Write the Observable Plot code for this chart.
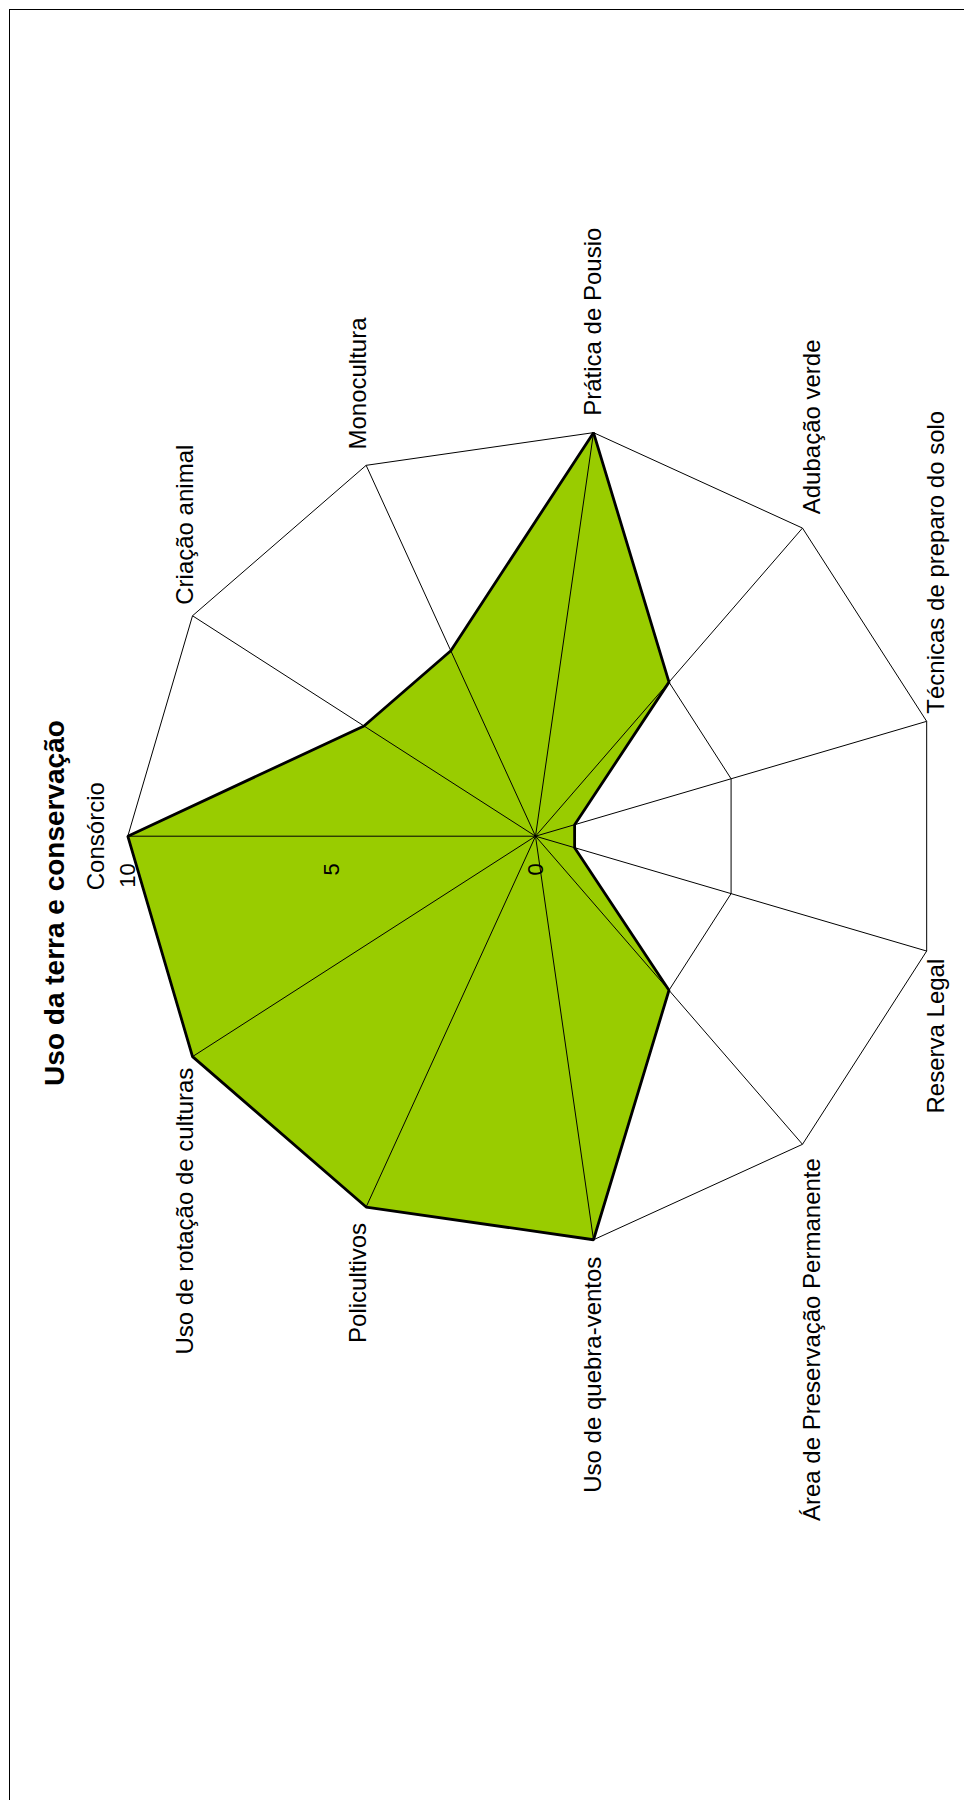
<!DOCTYPE html>
<html>
<head>
<meta charset="utf-8">
<script src="https://cdn.jsdelivr.net/npm/d3@7"></script>
<script src="https://cdn.jsdelivr.net/npm/@observablehq/plot@0.6"></script>
<style>
  html, body { margin: 0; padding: 0; background: #ffffff; }
</style>
</head>
<body>
<div id="chart"></div>
<script>
// Radar of land-use and conservation practices, drawn turned a quarter turn
// (the first axis points left and the web runs clockwise from there).
const title = "Uso da terra e conservação";
const categories = [
  "Consórcio",
  "Criação animal",
  "Monocultura",
  "Prática de Pousio",
  "Adubação verde",
  "Técnicas de preparo do solo",
  "Reserva Legal",
  "Área de Preservação Permanente",
  "Uso de quebra-ventos",
  "Policultivos",
  "Uso de rotação de culturas"
];
const values = [10, 5, 5, 10, 5, 1, 1, 5, 10, 10, 10];
const ticks = [0, 5, 10];

// Layout
const W = 964, H = 1800;
const cx = 535, cy = 835.7;      // centre of the web (px)
const radiusPx = 407.7;          // length of the outer ring (px)
const vMax = d3.max(ticks);
const k = radiusPx / vMax;       // px per unit
const font = "Liberation Sans, Arial, Helvetica, sans-serif";

const n = categories.length;
const dirs = categories.map((_, i) => {
  const a = (i * 2 * Math.PI) / n;
  return {dx: -Math.cos(a), dy: -Math.sin(a)};
});

const series = categories.map((name, i) => ({
  name,
  value: values[i],
  x: values[i] * dirs[i].dx,
  y: values[i] * dirs[i].dy
}));

const rings = ticks.filter((t) => t > 0).flatMap((t) =>
  categories.map((_, i) => ({ring: t, x: t * dirs[i].dx, y: t * dirs[i].dy}))
);

const spokes = categories.map((name, i) => ({
  name,
  x2: vMax * dirs[i].dx,
  y2: vMax * dirs[i].dy
}));

// Category labels: rotated text placed just outside each spoke end
const labelMarks = categories.map((name, i) => {
  const {dx, dy} = dirs[i];
  const eps = 0.05;
  let textAnchor = "middle", along = 0;
  const gap = 4 + 13 * Math.abs(dy);
  if (dy < -eps) { textAnchor = "start"; along = -gap; }
  else if (dy > eps) { textAnchor = "end"; along = gap; }
  let lineAnchor = "middle", across = 0;
  if (Math.abs(dx) >= 0.3) lineAnchor = dx < 0 ? "bottom" : "top";
  if (Math.abs(dy) < eps) across = dx < 0 ? -24 : 24;
  return Plot.text([name], {
    x: () => vMax * dx + across / k,
    y: () => vMax * dy + along / k,
    text: (d) => d,
    rotate: -90,
    textAnchor,
    lineAnchor,
    fontSize: 24,
    fontFamily: font,
    fill: "#000"
  });
});

const chart = Plot.plot({
  width: W,
  height: H,
  margin: 0,
  style: {fontFamily: font, background: "#ffffff"},
  x: {domain: [-cx / k, (W - cx) / k], range: [0, W], axis: null},
  y: {domain: [-cy / k, (H - cy) / k], range: [0, H], axis: null},
  marks: [
    // chart border
    Plot.frame({stroke: "#000", strokeWidth: 1, insetLeft: 9, insetTop: 9, insetRight: 0, insetBottom: 0}),
    // rings of the web
    Plot.line(rings, {x: "x", y: "y", z: "ring", curve: "linear-closed", stroke: "#000", strokeWidth: 1}),
    // filled series area
    Plot.line(series, {x: "x", y: "y", curve: "linear-closed", fill: "#99CC00", stroke: "none"}),
    // spokes
    Plot.link(spokes, {x1: () => 0, y1: () => 0, x2: "x2", y2: "y2", stroke: "#000", strokeWidth: 1}),
    // series outline
    Plot.line(series, {x: "x", y: "y", curve: "linear-closed", stroke: "#000", strokeWidth: 2.8, strokeLinejoin: "miter"}),
    // value ticks along the first spoke
    Plot.text(ticks, {
      x: (t) => t * dirs[0].dx,
      y: (t) => t * dirs[0].dy + 27 / k,
      text: (t) => String(t),
      rotate: -90,
      textAnchor: "end",
      lineAnchor: "middle",
      fontSize: 22,
      fontFamily: font,
      fill: "#000"
    }),
    ...labelMarks,
    // title
    Plot.text([title], {
      x: () => (63 - cx) / k,
      y: () => (902.5 - cy) / k,
      text: (d) => d,
      rotate: -90,
      textAnchor: "middle",
      lineAnchor: "bottom",
      fontSize: 28,
      fontWeight: "bold",
      fontFamily: font,
      fill: "#000"
    })
  ]
});

document.getElementById("chart").append(chart);
</script>
</body>
</html>
